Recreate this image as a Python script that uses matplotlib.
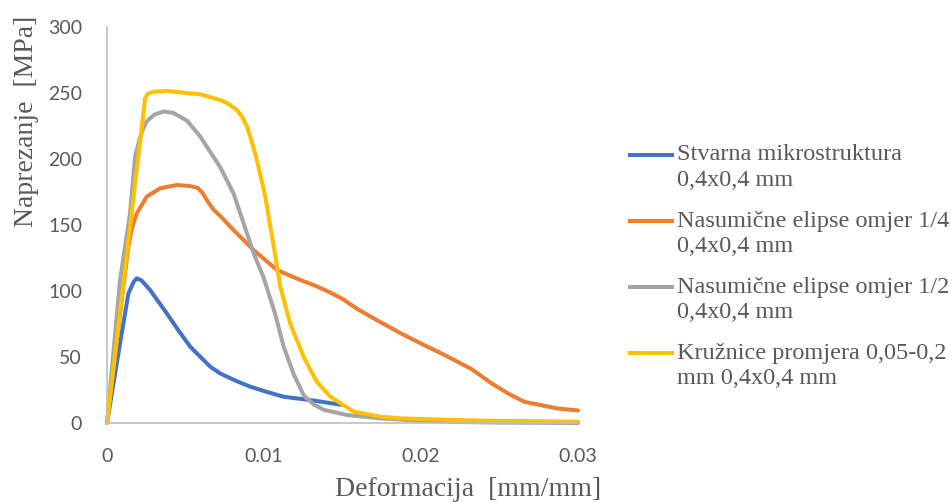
import numpy as np
import matplotlib.pyplot as plt
from matplotlib.lines import Line2D

# Stvarna mikrostruktura
x_plava = [0, 0.0008, 0.00136, 0.0017, 0.0019, 0.0022, 0.00274, 0.00381, 0.0045, 0.0053, 0.00594, 0.00657,
           0.0072, 0.0082, 0.00913, 0.0102, 0.01125, 0.01317, 0.0149]
y_plava = [0, 58, 98, 107, 109.6, 108, 100.8, 83, 71, 57.8, 50.2, 42.7,
           37.6, 32, 27.5, 23.5, 19.9, 17, 13.8]

# Nasumicne elipse 1/4
x_narancasta = [0, 0.0007, 0.00136, 0.0016, 0.0019, 0.00253, 0.00338, 0.00445, 0.0053, 0.0058, 0.0061, 0.0064,
                0.0068, 0.0072, 0.00806, 0.00934, 0.01083, 0.01232, 0.01317, 0.0142, 0.0150, 0.0160, 0.0168,
                0.0187, 0.0202, 0.0215, 0.0232, 0.0245, 0.0256, 0.0266, 0.0287, 0.030]
y_narancasta = [0, 70, 133.6, 148, 158.9, 171.5, 177.8, 180.3, 179.5, 178, 174, 168,
                161.4, 157, 146.2, 131, 115.9, 108.3, 104.5, 99, 94, 86, 80.5,
                68, 59, 51.5, 41, 30, 22, 16, 11, 9.5]

# Nasumicne elipse 1/2
x_siva = [0, 0.00083, 0.00147, 0.0018, 0.0022, 0.00253, 0.0030, 0.0036, 0.0042, 0.00466, 0.0051, 0.00594,
          0.0072, 0.00806, 0.0087, 0.00934, 0.00998, 0.0107, 0.01125, 0.01189, 0.01253, 0.01317, 0.01381,
          0.0153, 0.01743, 0.0195, 0.022, 0.025, 0.030]
y_siva = [0, 108, 159, 203, 220, 228.5, 233.5, 236, 235, 232, 229, 217,
          194, 174, 151.3, 128.6, 110, 83, 58, 37, 21, 14, 10,
          6, 3.5, 2, 0.8, 0.3, 0]

# Kruznice
x_zuta = [0, 0.00243, 0.0026, 0.0030, 0.00381, 0.00594, 0.0072, 0.00764, 0.00828, 0.0086, 0.00892, 0.00925,
          0.00955, 0.01008, 0.01062, 0.01104, 0.01168, 0.01253, 0.01296, 0.01338, 0.01423, 0.01487, 0.01572,
          0.01743, 0.0187, 0.0206, 0.0238, 0.030]
y_zuta = [0, 246, 249.5, 251, 251.5, 249, 244.7, 242.5, 237, 232, 224.5, 212,
          199, 171.5, 133.6, 103.3, 75, 50, 40, 31, 20, 15, 8.6,
          4.8, 3.5, 2.8, 1.8, 1]

labele = ["Stvarna mikrostruktura\n0,4x0,4 mm",
          "Nasumične elipse omjer 1/4\n0,4x0,4 mm",
          "Nasumične elipse omjer 1/2\n0,4x0,4 mm",
          "Kružnice promjera 0,05-0,2\nmm 0,4x0,4 mm"]
boje = ['#4472C4', '#ED7D31', '#A5A5A5', '#FFC000']

fig = plt.figure(figsize=(9.51, 5.03), dpi=100)
ax = fig.add_axes([107/951, 80/503, 471/951, 396/503])

serije = [(x_plava, y_plava), (x_narancasta, y_narancasta), (x_siva, y_siva), (x_zuta, y_zuta)]
for (x, y), c in zip(serije, boje):
    ax.plot(x, y, color=c, lw=2.9, solid_capstyle='round', solid_joinstyle='round', clip_on=False)

ax.set_xlim(0, 0.03)
ax.set_ylim(0, 300)
ax.set_xticks([0, 0.01, 0.02, 0.03])
ax.set_xticklabels(['0', '0.01', '0.02', '0.03'])
ax.set_yticks(range(0, 301, 50))
for s in ['top', 'right']:
    ax.spines[s].set_visible(False)
for s in ['left', 'bottom']:
    ax.spines[s].set_color('#BFBFBF')
    ax.spines[s].set_linewidth(1.2)
ax.tick_params(length=0, pad=18, labelsize=14, labelcolor='#595959')
for t in ax.get_xticklabels() + ax.get_yticklabels():
    t.set_family('Lato')

fig.text(468/951, 1 - 490/503, 'Deformacija  [mm/mm]', family='Liberation Serif', fontsize=20,
         color='#595959', ha='center', va='center')
fig.text(27/951, 1 - 121/503, 'Naprezanje  [MPa]', family='Liberation Serif', fontsize=20,
         color='#595959', ha='center', va='center', rotation=90)

# legenda
for i, (lab, c) in enumerate(zip(labele, boje)):
    y0 = 155 + 66 * i
    fig.add_artist(Line2D([630/951, 672/951], [1 - y0/503, 1 - y0/503], color=c, lw=2.9,
                          transform=fig.transFigure))
    for j, red in enumerate(lab.split('\n')):
        fig.text(677/951, 1 - (y0 + 26 * j)/503, red, family='Liberation Serif', fontsize=17.5,
                 color='#595959', ha='left', va='center')

fig.savefig('out.png', dpi=100)
